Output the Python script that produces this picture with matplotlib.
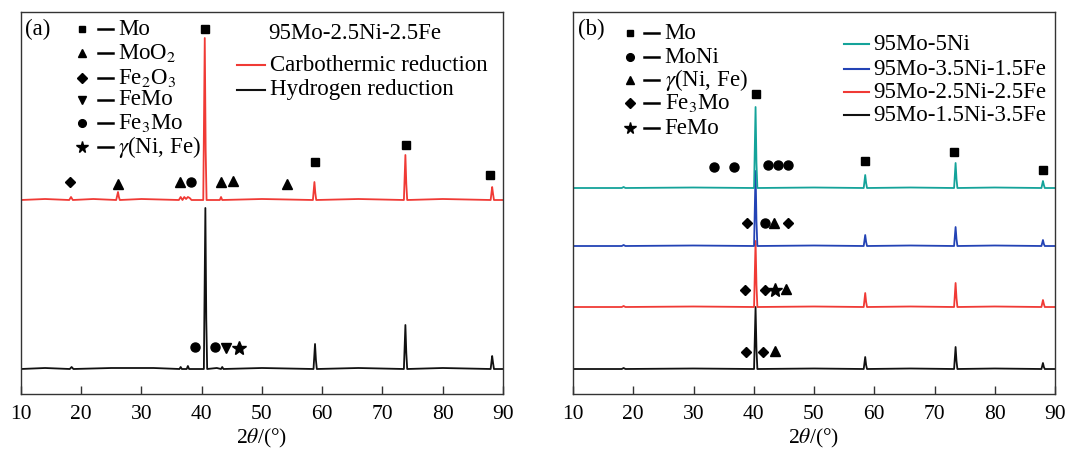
import matplotlib
matplotlib.use("Agg")
import matplotlib.pyplot as plt

plt.rcParams["font.family"] = ["Liberation Serif", "DejaVu Serif"]
plt.rcParams["mathtext.fontset"] = "stix"

# ---- panel (a) patterns: 2theta, intensity (a.u.) ----
a_carbo_x = [10, 14, 18.0, 18.3, 18.6, 22, 25.8, 26.1, 26.25, 26.4, 30, 36.2, 36.5, 36.8, 37.1, 37.4, 37.7,
             38.0, 38.3, 40.25, 40.5, 40.65, 40.8, 43.0, 43.2, 43.4, 50, 58.45, 58.7, 58.85, 59.0, 66,
             73.55, 73.8, 73.95, 74.1, 80, 87.95, 88.2, 88.35, 88.5, 90]
a_carbo_y = [0, 1, 0, 3, 0, 1, 0, 8, 3, 0, 1, 0, 3, 0, 3, 1, 3,
             2, 0, 0, 162, 50, 0, 0, 3, 0, 1, 0, 18, 7, 0, 1,
             0, 45, 16, 0, 1, 0, 13, 6, 0, 0]
a_hydro_x = [10, 14, 18.1, 18.4, 18.7, 25, 32, 36.3, 36.5, 36.7, 37.5, 37.7, 37.9, 40.35, 40.6, 40.75,
             40.9, 42.5, 43.2, 43.4, 43.6, 50, 58.55, 58.8, 58.95, 59.1, 66, 73.55, 73.8, 73.95, 74.1,
             80, 87.95, 88.2, 88.35, 88.5, 90]
a_hydro_y = [0, 1, 0, 2, 0, 1, 1, 0, 2, 0, 0, 3, 0, 0, 161, 50,
             0, 1, 0, 2, 0, 1, 0, 25, 9, 0, 1, 0, 44, 16, 0,
             1, 0, 13, 6, 0, 0]
a_offsets = {"carbo": 194, "hydro": 25}

# phase markers panel (a): (2theta, y)
a_mo = [(40.5, 365), (58.8, 232), (73.9, 249), (87.8, 219)]
a_moo2 = [(26.1, 210), (36.4, 212), (43.2, 212), (45.2, 213), (54.1, 210)]
a_fe2o3 = [(18.1, 212)]
a_femo = [(44.0, 46)]
a_fe3mo = [(38.2, 212), (38.9, 47), (42.2, 47)]
a_gamma = [(46.2, 46)]

# ---- panel (b) patterns ----
b_x = [10, 18.1, 18.4, 18.7, 30, 40.05, 40.3, 40.45, 40.6, 50, 58.25, 58.5, 58.65, 58.8,
       66, 73.25, 73.5, 73.65, 73.8, 80, 87.75, 88.0, 88.15, 88.3, 90]
b_5ni = [0, 0, 1, 0, 0.5, 0, 81, 25, 0, 0.5, 0, 13, 5, 0, 0.5, 0, 25, 9, 0, 0.5, 0, 7, 3, 0, 0]
b_35ni = [0, 0, 1, 0, 0.5, 0, 75, 25, 0, 0.5, 0, 11, 4, 0, 0.5, 0, 19, 7, 0, 0.5, 0, 6, 2, 0, 0]
b_25ni = [0, 0, 1, 0, 0.5, 0, 66, 22, 0, 0.5, 0, 14, 5, 0, 0.5, 0, 24, 9, 0, 0.5, 0, 7, 3, 0, 0]
b_15ni = [0, 0, 1, 0, 0.5, 0, 62, 20, 0, 0.5, 0, 12, 4, 0, 0.5, 0, 22, 8, 0, 0.5, 0, 6, 2, 0, 0]
b_offsets = [206, 148, 87, 25]
b_labels = ["95Mo-5Ni", "95Mo-3.5Ni-1.5Fe", "95Mo-2.5Ni-2.5Fe", "95Mo-1.5Ni-3.5Fe"]
b_colors = ["#14a39a", "#2343b5", "#f03a35", "#111111"]

b_mo = [(40.3, 300), (58.5, 233), (73.2, 242), (88.0, 224)]
b_moni = [(33.4, 227), (36.7, 227), (42.4, 229), (44.0, 229), (45.7, 229), (41.9, 171)]
b_gamma = [(43.4, 171), (45.4, 105), (43.5, 43)]
b_fe3mo = [(38.9, 171), (45.7, 171), (38.5, 104), (41.9, 104), (38.7, 42), (41.5, 42)]
b_femo = [(43.5, 104)]

FS = 16.5
TICK_FS = 15.5

fig = plt.figure(figsize=(10.91, 4.54), dpi=100)
ax_a = fig.add_axes([21 / 1091, 60 / 454, 482 / 1091, 382 / 454])
ax_b = fig.add_axes([573 / 1091, 60 / 454, 482 / 1091, 382 / 454])

mk = {"s": dict(marker="s", ms=5.5), "^": dict(marker="^", ms=7), "D": dict(marker="D", ms=5.5),
      "v": dict(marker="v", ms=7), "o": dict(marker="o", ms=6.5), "*": dict(marker="*", ms=10)}


def put_markers(ax, pts, key):
    xs = [p[0] for p in pts]
    ys = [p[1] for p in pts]
    ax.plot(xs, ys, ls="none", color="black", zorder=5, **mk[key])


def style(ax):
    ax.set_xlim(10, 90)
    ax.set_ylim(0, 382)
    ax.set_xticks(range(10, 91, 10))
    ax.set_yticks([])
    ax.tick_params(axis="x", direction="in", length=6, width=1, labelsize=TICK_FS, pad=8, color="#333333")
    for s in ax.spines.values():
        s.set_linewidth(1.0)
        s.set_color("#333333")
    ax.set_xlabel("2$\\mathit{\\theta}$/(°)", fontsize=TICK_FS, labelpad=2)


def legend_entry(ax, x_mark, x_text, yy, key, name):
    d = dict(mk[key])
    d["ms"] = d["ms"] * 0.85
    ax.plot([x_mark], [yy], transform=ax.transAxes, color="black", ls="none", **d)
    ax.plot([x_text, x_text + 0.03], [yy, yy], transform=ax.transAxes, color="black", lw=1.8)
    ax.text(x_text + 0.042, yy, name, transform=ax.transAxes, fontsize=FS, va="center", ha="left")


# panel (a)
ax_a.plot(a_hydro_x, [v + a_offsets["hydro"] for v in a_hydro_y], color="#111111", lw=1.3)
ax_a.plot(a_carbo_x, [v + a_offsets["carbo"] for v in a_carbo_y], color="#f03a35", lw=1.3)
put_markers(ax_a, a_mo, "s")
put_markers(ax_a, a_moo2, "^")
put_markers(ax_a, a_fe2o3, "D")
put_markers(ax_a, a_femo, "v")
put_markers(ax_a, a_fe3mo, "o")
put_markers(ax_a, a_gamma, "*")
style(ax_a)

a_keys = ["s", "^", "D", "v", "o", "*"]
a_names = ["Mo", "MoO$_2$", "Fe$_2$O$_3$", "FeMo", "Fe$_3$Mo", "$\\mathit{\\gamma}$(Ni, Fe)"]
a_rows = [0.955, 0.893, 0.827, 0.770, 0.709, 0.647]
for k, n, yy in zip(a_keys, a_names, a_rows):
    legend_entry(ax_a, 0.127, 0.16, yy, k, n)
ax_a.text(0.008, 0.955, "(a)", transform=ax_a.transAxes, fontsize=FS, va="center", ha="left")
ax_a.text(0.512, 0.945, "95Mo-2.5Ni-2.5Fe", transform=ax_a.transAxes, fontsize=FS, va="center")
for c, lab, yy in zip(["#f03a35", "#111111"], ["Carbothermic reduction", "Hydrogen reduction"], [0.861, 0.796]):
    ax_a.plot([0.448, 0.506], [yy, yy], transform=ax_a.transAxes, color=c, lw=1.5)
    ax_a.text(0.517, yy, lab, transform=ax_a.transAxes, fontsize=FS, va="center")

# panel (b)
for vals, off, c in reversed(list(zip([b_5ni, b_35ni, b_25ni, b_15ni], b_offsets, b_colors))):
    ax_b.plot(b_x, [v + off for v in vals], color=c, lw=1.3)
put_markers(ax_b, b_mo, "s")
put_markers(ax_b, b_moni, "o")
put_markers(ax_b, b_gamma, "^")
put_markers(ax_b, b_fe3mo, "D")
put_markers(ax_b, b_femo, "*")
style(ax_b)

b_keys = ["s", "o", "^", "D", "*"]
b_names = ["Mo", "MoNi", "$\\mathit{\\gamma}$(Ni, Fe)", "Fe$_3$Mo", "FeMo"]
b_rows = [0.945, 0.882, 0.822, 0.762, 0.696]
for k, n, yy in zip(b_keys, b_names, b_rows):
    legend_entry(ax_b, 0.118, 0.148, yy, k, n)
ax_b.text(0.01, 0.955, "(b)", transform=ax_b.transAxes, fontsize=FS, va="center", ha="left")
for c, lab, yy in zip(b_colors, b_labels, [0.916, 0.850, 0.790, 0.730]):
    ax_b.plot([0.562, 0.614], [yy, yy], transform=ax_b.transAxes, color=c, lw=1.5)
    ax_b.text(0.622, yy, lab, transform=ax_b.transAxes, fontsize=FS, va="center")

fig.savefig("out.png", dpi=100)
